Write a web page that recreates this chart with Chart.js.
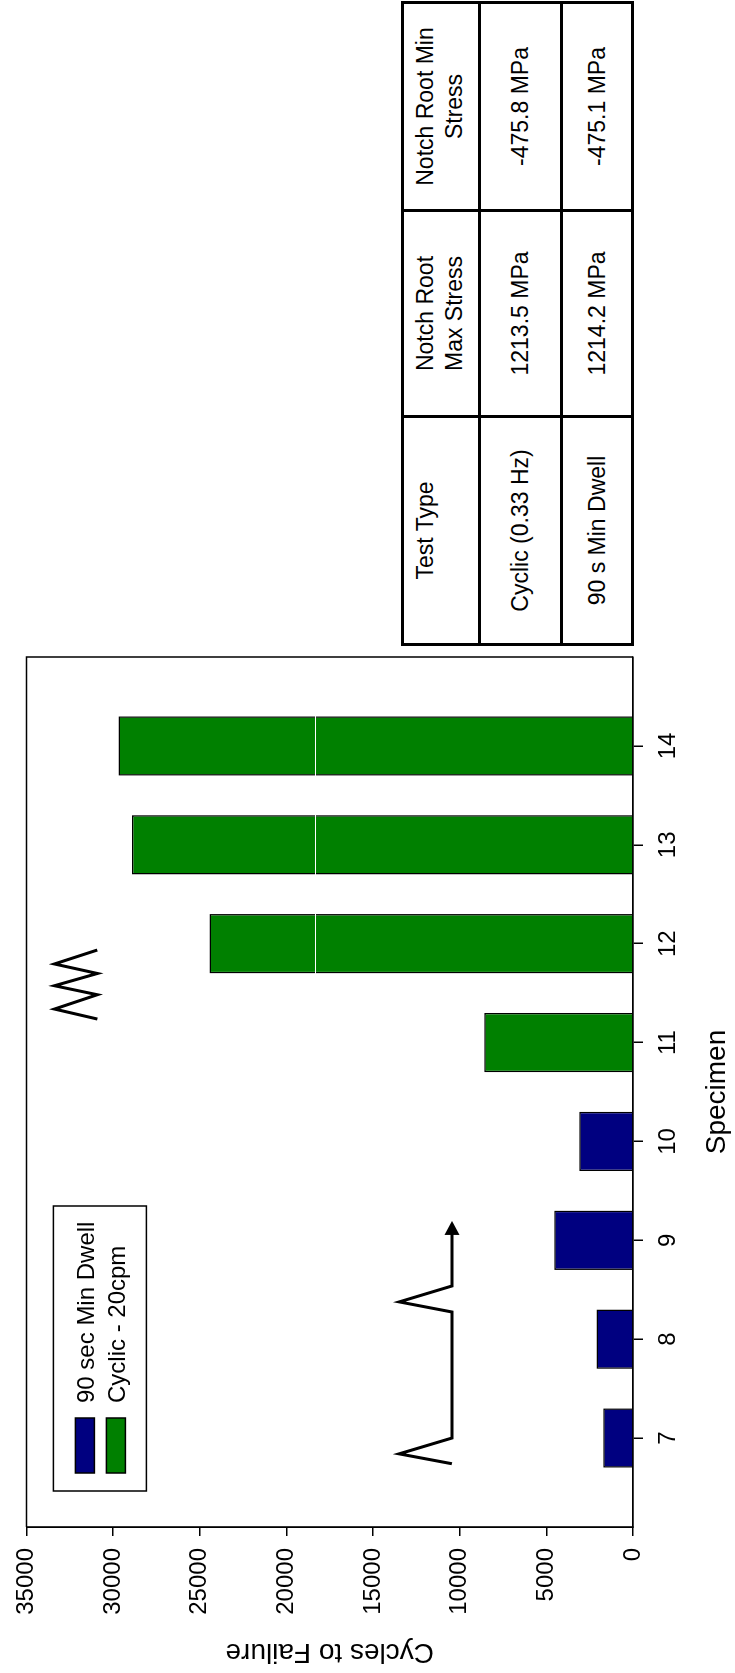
<!DOCTYPE html>
<html lang="en">
<head>
<meta charset="UTF-8">
<title>Cycles to Failure by Specimen</title>
<script src="https://cdn.jsdelivr.net/npm/chart.js"></script>
<style>
    html, body { margin: 0; padding: 0; background: #ffffff; overflow: hidden; }
    body { width: 735px; height: 1673px; position: relative; font-family: 'Liberation Sans', Arial, sans-serif; }
    /* the whole figure is laid out landscape, then turned to read bottom-to-top */
    #sheet {
        position: absolute; left: 0; top: 0;
        width: 1673px; height: 735px;
        transform-origin: 0 0;
        transform: translateY(1673px) rotate(-90deg);
    }
    #chart { position: absolute; left: 0; top: 0; }
    table.stress {
        position: absolute; left: 1027px; top: 401px;
        width: 645px; table-layout: fixed;
        border-collapse: collapse; font-size: 23px; color: #000;
    }
    table.stress td { border: 3px solid #000; text-align: center; padding: 0; line-height: 29px; }
    table.stress tr.head td { vertical-align: top; padding-top: 7px; }
    table.stress tr.row td { vertical-align: middle; }
</style>
</head>
<body>
<div id="sheet">
    <canvas id="chart" width="1020" height="735"></canvas>
    <table class="stress" id="stressTable">
        <colgroup><col style="width:228px"><col style="width:206px"><col style="width:208px"></colgroup>
    </table>
</div>

<script>
    const specimenTicks = [7, 8, 9, 10, 11, 12, 13, 14];
    const dwellSpecimens = [7, 8, 9, 10];
    const dwellCycles = [1720, 2100, 4550, 3100];
    const cyclicSpecimens = [11, 12, 13, 14];
    const cyclicCycles = [8580, 24430, 28900, 29680];
    const seriesNames = ['90 sec Min Dwell', 'Cyclic - 20cpm'];
    const cycleMax = 35000;
    const cycleStep = 5000;

    const tableHead = ['Test Type', 'Notch Root<br>Max Stress', 'Notch Root Min<br>Stress'];
    const tableRows = [
        ['Cyclic (0.33 Hz)', '1213.5 MPa', '-475.8 MPa'],
        ['90 s Min Dwell', '1214.2 MPa', '-475.1 MPa']
    ];

    // waveform sketches, in specimen / cycles units
    const dwellWave = [[6.74, 10450], [6.84, 13490], [7.0, 10450], [8.275, 10450], [8.377, 13490], [8.538, 10450], [9.07, 10450]];
    const dwellArrowTip = [9.196, 10450];
    const cyclicWave = [[11.238, 30907], [11.339, 33376], [11.484, 30907], [11.575, 33376], [11.699, 30907], [11.795, 33376], [11.936, 30907]];
    const whiteLineAt = 18320;

    const FAMILY = "'Liberation Sans', Arial, sans-serif";

    // table
    const tbl = document.getElementById('stressTable');
    const rowHeights = [77, 82, 71];
    [tableHead, ...tableRows].forEach((cells, r) => {
        const tr = document.createElement('tr');
        tr.className = r === 0 ? 'head' : 'row';
        tr.style.height = rowHeights[r] + 'px';
        cells.forEach(c => {
            const td = document.createElement('td');
            td.innerHTML = c;
            tr.appendChild(td);
        });
        tbl.appendChild(tr);
    });

    Chart.defaults.font.family = FAMILY;
    Chart.defaults.color = '#000';

    const colors = ['#000080', '#008000'];

    const decorations = {
        id: 'decorations',
        afterDatasetsDraw(chart) {
            const { ctx, chartArea: a, scales: { y } } = chart;
            const wy = Math.round(y.getPixelForValue(whiteLineAt)) + 0.5;
            ctx.save();
            ctx.strokeStyle = '#ffffff';
            ctx.lineWidth = 1;
            ctx.beginPath();
            ctx.moveTo(a.left + 2, wy);
            ctx.lineTo(a.right - 2, wy);
            ctx.stroke();
            ctx.restore();
        },
        afterDraw(chart) {
            const { ctx, chartArea: a, scales: { x, y } } = chart;
            ctx.save();

            // top and right frame
            ctx.strokeStyle = '#000';
            ctx.lineWidth = 1.5;
            ctx.beginPath();
            ctx.moveTo(a.left, a.top);
            ctx.lineTo(a.right, a.top);
            ctx.lineTo(a.right, a.bottom);
            ctx.stroke();

            // legend box
            const bx = a.left + 36, by = a.top + 27, bw = 285, bh = 93;
            ctx.fillStyle = '#fff';
            ctx.fillRect(bx, by, bw, bh);
            ctx.lineWidth = 1.5;
            ctx.strokeRect(bx, by, bw, bh);
            ctx.font = '24px ' + FAMILY;
            ctx.textBaseline = 'alphabetic';
            ctx.textAlign = 'left';
            chart.data.datasets.forEach((ds, i) => {
                const sy = by + 22 + i * 31;
                ctx.fillStyle = ds.backgroundColor;
                ctx.fillRect(bx + 18, sy, 55, 19);
                ctx.strokeRect(bx + 18, sy, 55, 19);
                ctx.fillStyle = '#000';
                ctx.fillText(ds.label, bx + 88, sy + 9.5 + 8.6);
            });

            // waveform sketches
            const px = p => [x.getPixelForValue(p[0]), y.getPixelForValue(p[1])];
            ctx.lineWidth = 3;
            ctx.lineJoin = 'miter';
            [dwellWave, cyclicWave].forEach(w => {
                ctx.beginPath();
                w.forEach((p, i) => {
                    const [qx, qy] = px(p);
                    if (i === 0) ctx.moveTo(qx, qy); else ctx.lineTo(qx, qy);
                });
                ctx.stroke();
            });
            const [tx, ty] = px(dwellArrowTip);
            ctx.fillStyle = '#000';
            ctx.beginPath();
            ctx.moveTo(tx, ty);
            ctx.lineTo(tx - 14, ty - 7.5);
            ctx.lineTo(tx - 14, ty + 7.5);
            ctx.closePath();
            ctx.fill();

            ctx.restore();
        }
    };

    new Chart(document.getElementById('chart'), {
        type: 'bar',
        data: {
            datasets: [
                {
                    label: seriesNames[0],
                    data: dwellSpecimens.map((s, i) => ({ x: s, y: dwellCycles[i] })),
                    backgroundColor: colors[0]
                },
                {
                    label: seriesNames[1],
                    data: cyclicSpecimens.map((s, i) => ({ x: s, y: cyclicCycles[i] })),
                    backgroundColor: colors[1]
                }
            ]
        },
        options: {
            responsive: false,
            animation: false,
            devicePixelRatio: 1,
            layout: { padding: { left: 0, right: 4, top: 23, bottom: 0 } },
            datasets: {
                bar: {
                    grouped: false,
                    barPercentage: 0.6,
                    categoryPercentage: 1,
                    borderColor: '#000',
                    borderWidth: 1.5
                }
            },
            plugins: {
                legend: { display: false },
                tooltip: { enabled: false }
            },
            scales: {
                x: {
                    type: 'linear',
                    offset: false,
                    min: 6.1,
                    max: 14.9,
                    afterBuildTicks: s => { s.ticks = specimenTicks.map(v => ({ value: v })); },
                    afterFit: s => { s.height = 102; },
                    ticks: { font: { size: 24, family: FAMILY }, color: '#000', padding: 11, callback: v => String(v) },
                    grid: { offset: false, drawOnChartArea: false, color: '#000', lineWidth: 1.5, tickLength: 10 },
                    border: { color: '#000', width: 1.8 },
                    title: { display: true, text: 'Specimen', font: { size: 28, family: FAMILY }, color: '#000', padding: { top: 0, bottom: 1 } }
                },
                y: {
                    min: 0,
                    max: cycleMax,
                    afterFit: s => { s.width = 146; },
                    ticks: { stepSize: cycleStep, font: { size: 24, family: FAMILY }, color: '#000', padding: 12, callback: v => String(v) },
                    grid: { drawOnChartArea: false, color: '#000', lineWidth: 1.5, tickLength: 9 },
                    border: { color: '#000', width: 1.8 },
                    title: { display: true, text: 'Cycles to Failure', font: { size: 28, family: FAMILY }, color: '#000', padding: { top: 4, bottom: 0 } }
                }
            }
        },
        plugins: [decorations]
    });
</script>
</body>
</html>
